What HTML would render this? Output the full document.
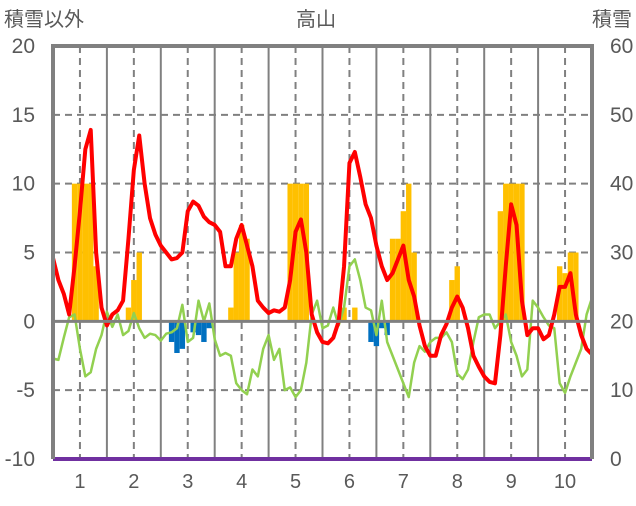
<!DOCTYPE html>
<html><head><meta charset="utf-8"><style>
body{margin:0;background:#fff;width:636px;height:501px;overflow:hidden}
svg text{font-family:"Liberation Sans","Noto Sans CJK JP",sans-serif;fill:#595959}
</style></head><body>
<svg id="chart" width="636" height="501" viewBox="0 0 636 501" xmlns="http://www.w3.org/2000/svg">
<text x="4" y="26" font-size="20">積雪以外</text>
<text x="316" y="26" font-size="20" text-anchor="middle">高山</text>
<text x="632" y="26" font-size="20" text-anchor="end">積雪</text>
<g id="grid"></g><g id="bars"></g><g id="lines"></g><g id="axes"></g>
</svg>
<script>
const monthLabels=["1","2","3","4","5","6","7","8","9","10"];
const leftTicks=[20,15,10,5,0,-5,-10];
const rightTicks=[60,50,40,30,20,10,0];
const redSeries=[4.6,3,2,0.5,4,8,12.5,13.9,5,1,-0.3,0.5,0.8,1.5,6,11,13.5,10,7.5,6.3,5.5,5,4.5,4.6,5,8,8.7,8.4,7.6,7.2,7,6.5,4,4,6,7,5.5,4,1.5,1,0.6,0.8,0.7,1,3,6.5,7.4,5,0.5,-0.8,-1.5,-1.6,-1.2,0,4,11.5,12.3,10.5,8.5,7.5,5.5,4,3,3.5,4.5,5.5,3,1.8,-0.3,-1.8,-2.5,-2.5,-1,-0.2,1,1.8,1,-0.5,-2.5,-3.3,-4,-4.4,-4.5,-1,4,8.5,7,1.5,-1,-0.5,-0.5,-1.3,-1,0.5,2.5,2.5,3.5,0.5,-1,-2,-2.4];
const greenSeries=[-2.7,-2.8,-1.2,0.3,0.5,-2,-4,-3.7,-2,-1,0.7,-0.4,0.5,-1,-0.7,0.6,-0.5,-1.2,-0.9,-1,-1.4,-0.9,-0.8,-0.5,1.2,-1.5,-1.2,1.5,0,1.3,-1.3,-2.5,-2.3,-2.5,-4.5,-5,-5.3,-3.5,-4,-2,-1,-2.8,-2,-5,-4.8,-5.5,-5,-3,0.5,1.5,-0.5,-0.3,1,-0.3,1,4,4.5,3,1,0.8,-1,1.5,-1.5,-2.5,-3.5,-4.5,-5.5,-3,-1.8,-2.2,-1.5,-1.2,-1.2,-0.8,-1.5,-3.8,-4.2,-3.5,-1.5,0.3,0.5,0.5,-0.5,0,0.5,-1.5,-2.5,-4,-3.5,1.5,1,0.3,-0.3,-0.5,-4.5,-5.2,-4,-3,-2,0.5,1.7];
const snowIdx=[4,5,6,7,8,14,15,16,33,34,35,36,44,45,46,47,54,56,63,64,65,66,67,74,75,83,84,85,86,87,94,95,96,97];
const snowVal=[10,10,10,10,4,1,3,5,1,5,7,6,10,10,10,10,1,1,6,6,8,10,5,3,4,8,10,10,10,10,4,3.5,5,5];
const meltIdx=[22,23,24,26,27,28,29,59,60,61,62];
const meltVal=[-1.5,-2.3,-2,-0.8,-1,-1.5,-0.5,-1.5,-1.8,-0.5,-1];
const L=53,R=592,T=46,B=459,NS='http://www.w3.org/2000/svg';
const xPos=m=>L+(R-L)*(m-0.5)/10;
const xIdx=i=>xPos(0.5+i*0.1);
const y=v=>T+(20-v)*(B-T)/30;
function mk(p,t,a){const e=document.createElementNS(NS,t);for(const k in a)e.setAttribute(k,a[k]);p.appendChild(e);return e;}
const grid=document.getElementById('grid'),bars=document.getElementById('bars'),lines=document.getElementById('lines'),axes=document.getElementById('axes');
leftTicks.forEach(v=>{if(v===20||v===-10||v===0)return;
 const g=mk(grid,'line',{x1:L,x2:R,y1:y(v),y2:y(v),stroke:'#808080','stroke-width':2,'stroke-dasharray':'7,5'});
 
 });
monthLabels.forEach((lab,i)=>{const m=i+1;
 const d=mk(grid,'line',{x1:xPos(m),x2:xPos(m),y1:T,y2:B,stroke:'#808080','stroke-width':2,'stroke-dasharray':'7,5'});
 
 
 if(i<9){const s=mk(grid,'line',{x1:xPos(m+0.5),x2:xPos(m+0.5),y1:T,y2:B,stroke:'#808080','stroke-width':2});
 
 }
 const t=mk(axes,'text',{x:xPos(m),y:488,'font-size':20,'text-anchor':'middle'});t.textContent=lab;
 
 });
const w=(R-L)/100;
snowIdx.forEach((ix,k)=>{const v=snowVal[k];
 const r=mk(bars,'rect',{x:xIdx(ix)-w/2,y:y(v),width:w,height:y(0)-y(v),fill:'#FFC000'});
 
 });
meltIdx.forEach((ix,k)=>{const v=meltVal[k];
 const r=mk(bars,'rect',{x:xIdx(ix)-w/2,y:y(0),width:w,height:y(v)-y(0),fill:'#0070C0'});
 
 });
const z=mk(axes,'line',{x1:L,x2:R,y1:y(0),y2:y(0),stroke:'#808080','stroke-width':3});


const gp=mk(lines,'polyline',{points:greenSeries.map((v,i)=>xIdx(i)+','+y(v)).join(' '),fill:'none',stroke:'#92D050','stroke-width':2.5,'stroke-linejoin':'round'});


const rp=mk(lines,'polyline',{points:redSeries.map((v,i)=>xIdx(i)+','+y(v)).join(' '),fill:'none',stroke:'#FF0000','stroke-width':4,'stroke-linejoin':'round'});


const pl=mk(axes,'line',{x1:L,x2:R,y1:B,y2:B,stroke:'#7030A0','stroke-width':4});


const fr=mk(axes,'path',{d:`M${L},${B} V${T} H${R} V${B}`,fill:'none',stroke:'#808080','stroke-width':4});


leftTicks.forEach(v=>{const t=mk(axes,'text',{x:35,y:y(v)+7,'font-size':21,'text-anchor':'end'});t.textContent=v;
 
 });
rightTicks.forEach((v,k)=>{const t=mk(axes,'text',{x:610,y:y(leftTicks[k])+7,'font-size':21});t.textContent=v;
 
 });
</script>
</body></html>
